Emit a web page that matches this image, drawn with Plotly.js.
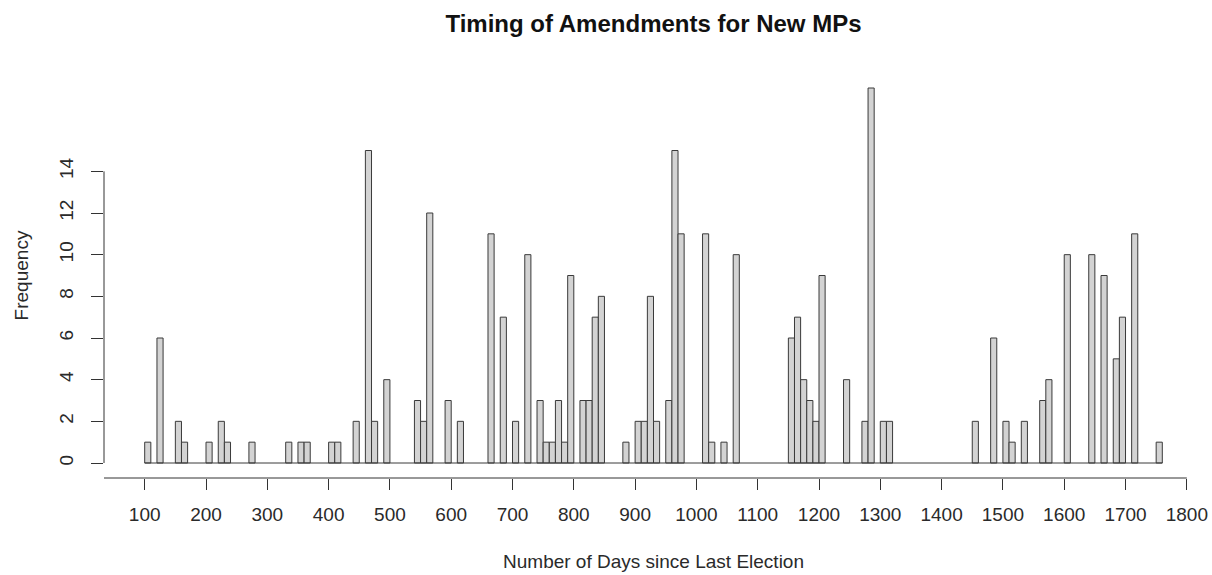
<!DOCTYPE html>
<html>
<head>
<meta charset="utf-8">
<script src="https://cdn.plot.ly/plotly-3.0.1.min.js"></script>
<style>html,body{margin:0;padding:0;background:#fff;}#chart{width:1212px;height:575px;}</style>
</head>
<body>
<div id="chart"></div>
<script>
// Histogram bins: start day of each non-empty 10-day bin and its count
const binStarts = [100,120,150,160,200,220,230,270,330,350,360,400,410,440,460,470,490,
  540,550,560,590,610,660,680,700,720,740,750,760,770,780,790,810,820,830,840,
  880,900,910,920,930,950,960,970,1010,1020,1040,1060,1150,1160,1170,1180,1190,1200,
  1240,1270,1280,1300,1310,1450,1480,1500,1510,1530,1560,1570,1600,1640,1660,1680,1690,1710,1750];
const counts = [1,6,2,1,1,2,1,1,1,1,1,1,1,2,15,2,4,
  3,2,12,3,2,11,7,2,10,3,1,1,3,1,9,3,3,7,8,
  1,2,2,8,2,3,15,11,11,1,1,10,6,7,4,3,2,9,
  4,2,18,2,2,2,6,2,1,2,3,4,10,10,9,5,7,11,1];
const binWidth = 10;
const firstBreak = 100, lastBreak = 1760;
const xTicks = [100,200,300,400,500,600,700,800,900,1000,1100,1200,1300,1400,1500,1600,1700,1800];
const yTicks = [0,2,4,6,8,10,12,14];

const centers = binStarts.map(s => s + binWidth/2);
const xMin = firstBreak - 0.04*(lastBreak-firstBreak);
const xMax = lastBreak + 0.04*(lastBreak-firstBreak);
const yMaxData = Math.max(...counts);
const yMin = -0.04*yMaxData, yMax = yMaxData*1.04;

const trace = {
  type: 'bar',
  x: centers,
  y: counts,
  width: binWidth,
  marker: {color: '#d3d3d3', line: {color: '#3a3a3a', width: 1}},
  hoverinfo: 'x+y'
};

const font = {family: 'Liberation Sans, Arial, sans-serif', color: '#2a2a2a'};

const layout = {
  width: 1212, height: 575,
  margin: {l: 104, r: 9, t: 73, b: 97},
  paper_bgcolor: '#fff', plot_bgcolor: '#fff',
  showlegend: false,
  font: Object.assign({size: 19}, font),
  title: {
    text: '<b>Timing of Amendments for New MPs</b>',
    font: Object.assign({size: 24}, font, {color: '#111'}),
    xref: 'paper', x: 0.5, xanchor: 'center',
    yref: 'container', y: 1 - 24/575, yanchor: 'middle'
  },
  xaxis: {
    range: [xMin, xMax],
    tickmode: 'array', tickvals: xTicks, ticktext: xTicks.map(String),
    ticks: 'outside', ticklen: 11, tickwidth: 1, tickcolor: '#333',
    ticklabelstandoff: 8,
    showgrid: false, zeroline: false, showline: false,
    tickfont: Object.assign({size: 19}, font),
    title: {text: 'Number of Days since Last Election', font: Object.assign({size: 19}, font), standoff: 30}
  },
  yaxis: {
    range: [yMin, yMax],
    tickmode: 'array', tickvals: yTicks, ticktext: yTicks.map(String),
    ticks: 'outside', ticklen: 12, tickwidth: 1, tickcolor: '#333',
    tickangle: -90, ticklabelstandoff: 10,
    showgrid: false, zeroline: false, showline: false,
    tickfont: Object.assign({size: 19}, font),
    title: {text: 'Frequency', font: Object.assign({size: 19}, font), standoff: 22}
  },
  shapes: [
    // x axis line
    {type: 'line', xref: 'x', yref: 'paper', x0: xMin, x1: xTicks[xTicks.length-1], y0: 0, y1: 0,
     line: {color: '#333', width: 1}},
    // y axis line
    {type: 'line', xref: 'paper', yref: 'y', x0: 0, x1: 0, y0: yTicks[0], y1: yTicks[yTicks.length-1],
     line: {color: '#333', width: 1}},
    // histogram baseline across all breaks (empty bins)
    {type: 'line', xref: 'x', yref: 'y', x0: firstBreak, x1: lastBreak, y0: 0, y1: 0,
     line: {color: '#3a3a3a', width: 1}}
  ]
};

Plotly.newPlot('chart', [trace], layout, {staticPlot: true, displayModeBar: false});
</script>
</body>
</html>
